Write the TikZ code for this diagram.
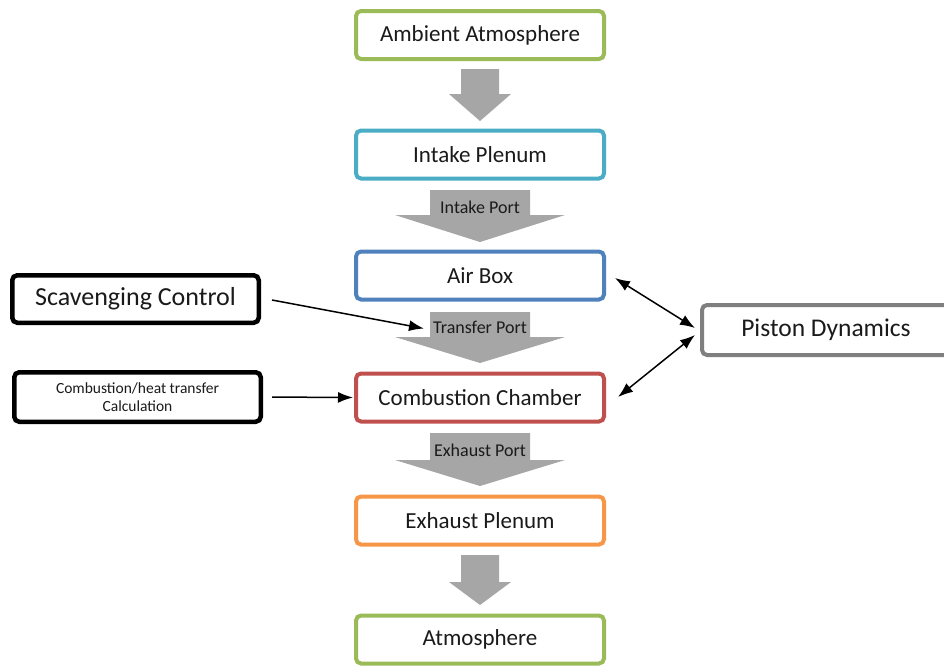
\documentclass[tikz,border=0pt]{standalone}
\usepackage{fontspec}
\setmainfont{Carlito}
\usetikzlibrary{arrows.meta,calc}
\definecolor{cgreen}{HTML}{9BBB59}
\definecolor{ccyan}{HTML}{4BACC6}
\definecolor{cblue}{HTML}{4F81BD}
\definecolor{cred}{HTML}{C0504D}
\definecolor{corange}{HTML}{F79646}
\definecolor{cgray}{HTML}{7F7F7F}
\definecolor{agray}{HTML}{A6A6A6}
\definecolor{tcol}{HTML}{1A1A1A}
\begin{document}
\begin{tikzpicture}[x=1pt,y=-1pt,
  mainbox/.style={draw, line width=4pt, rounded corners=5pt, fill=white,
    minimum width=248pt, minimum height=48pt, inner sep=0pt,
    font=\fontsize{23}{27}\selectfont, text=tcol},
  sidebox/.style={draw=black, line width=4.5pt, rounded corners=5pt, fill=white,
    minimum width=246.5pt, minimum height=47.5pt, inner sep=0pt, text=tcol},
  blockarrow/.style={fill=agray, draw=none},
  portlabel/.style={font=\fontsize{18}{21}\selectfont, text=tcol, inner sep=2pt},
  conn/.style={line width=1.5pt, -{Latex[length=15pt,width=11pt]}},
  bconn/.style={line width=1.5pt, {Latex[length=15pt,width=11pt]}-{Latex[length=15pt,width=11pt]}}
]
\useasboundingbox (0,0) rectangle (944,667);

% block arrows
\fill[blockarrow] (461,69) -- (499,69) -- (499,94) -- (511,94) -- (480,121) -- (449,94) -- (461,94) -- cycle;
\fill[blockarrow] (430,190) -- (530,190) -- (530,215) -- (565,215) -- (480,242) -- (395,215) -- (430,215) -- cycle;
\fill[blockarrow] (430,312) -- (530,312) -- (530,337) -- (565,337) -- (480,363) -- (395,337) -- (430,337) -- cycle;
\fill[blockarrow] (430,433) -- (530,433) -- (530,460) -- (565,460) -- (480,486) -- (395,460) -- (430,460) -- cycle;
\fill[blockarrow] (461,555) -- (499,555) -- (499,582) -- (511,582) -- (480,605) -- (449,582) -- (461,582) -- cycle;

\node[portlabel] (iport) at (480,207) {Intake Port};
\node[portlabel] (tport) at (480,327.5) {Transfer Port};
\node[portlabel] (eport) at (480,450) {Exhaust Port};

% main column
\node[mainbox, draw=cgreen] (amb) at (480,35) {Ambient Atmosphere};
\node[mainbox, draw=ccyan] (intake) at (480,154.5) {Intake Plenum};
\node[mainbox, draw=cblue] (airbox) at (480,275.5) {Air Box};
\node[mainbox, draw=cred] (comb) at (480,397.5) {Combustion Chamber};
\node[mainbox, draw=corange] (exh) at (480,520.5) {Exhaust Plenum};
\node[mainbox, draw=cgreen] (atm) at (480,639.5) {Atmosphere};

% side boxes
\node[sidebox, font=\fontsize{26}{30}\selectfont] (scav) at (135.5,299) {Scavenging Control};
\node[sidebox, minimum height=49.5pt, font=\fontsize{15.5}{18}\selectfont, align=center] (calc) at (137.5,397) {Combustion/heat transfer\\Calculation};
\node[mainbox, draw=cgray, minimum height=50pt, font=\fontsize{25.5}{30}\selectfont] (piston) at (826,330) {Piston Dynamics};

% connectors
\coordinate (scavS) at ($(scav.east)+(11,1)$);
\coordinate (tportE) at ($(tport.west)+(-7,1)$);
\draw[conn] (scavS) -- (tportE);
\draw[conn, shorten <=9pt, shorten >=1pt] (calc.east) -- (comb.west);
\coordinate (abS) at ($(airbox.east)+(9,2.5)$);
\coordinate (pU) at ($(piston.west)+(-5,-2)$);
\coordinate (pL) at ($(piston.west)+(-5,5)$);
\coordinate (cbS) at ($(comb.east)+(12,-0.5)$);
\draw[bconn] (abS) -- (pU);
\draw[bconn] (pL) -- (cbS);
\end{tikzpicture}
\end{document}
